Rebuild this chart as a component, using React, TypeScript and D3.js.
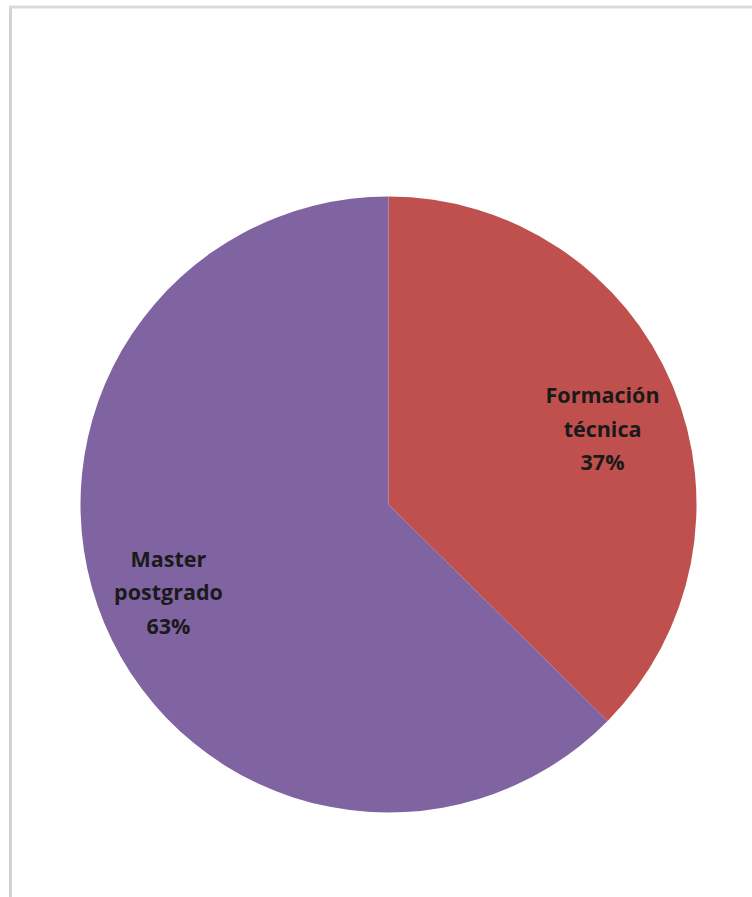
import React from "react";
import * as d3 from "d3";

const categories = ["Formación técnica", "Master postgrado"];
const labelLines = [["Formación", "técnica"], ["Master", "postgrado"]];
const values = [37.4, 62.6];
const colors = ["#C0504D", "#8064A2"];

const W = 752;
const H = 897;
const cx = 388.5;
const cy = 504.5;
const R = 308;
// layout nudges for label placement (Excel best-fit)
const labelNudge: [number, number][] = [[0, 14], [-6, -1]];

export default function App() {
  const pie = d3.pie<number>().sort(null).value((d) => d)(values);
  const arc = d3.arc<d3.PieArcDatum<number>>().innerRadius(0).outerRadius(R);
  const labelArc = d3.arc<d3.PieArcDatum<number>>().innerRadius(232).outerRadius(232);
  const total = d3.sum(values);
  return (
    <svg
      width={W}
      height={H}
      style={{ position: "absolute", left: 0, top: 0, display: "block" }}
      fontFamily="'Open Sans', 'Liberation Sans', sans-serif"
    >
      <rect x={0} y={0} width={W} height={H} fill="#ffffff" />
      <line x1={10.5} y1={7} x2={10.5} y2={H} stroke="#d2d2d2" strokeWidth={3} />
      <line x1={9} y1={7} x2={W} y2={7} stroke="#d9d9d9" strokeWidth={3} />
      <g transform={`translate(${cx},${cy})`}>
        {pie.map((p, i) => (
          <path key={categories[i]} d={arc(p) || ""} fill={colors[i]} />
        ))}
        {pie.map((p, i) => {
          const [ax, ay] = labelArc.centroid(p);
          const lx = ax + labelNudge[i][0];
          const ly = ay + labelNudge[i][1];
          const pct = d3.format(".0%")(values[i] / total);
          const lines = [...labelLines[i], pct];
          return (
            <text
              key={"l" + i}
              x={lx}
              y={ly}
              textAnchor="middle"
              fontWeight="bold"
              fontSize={21.5}
              fill="#1a1a1a"
            >
              {lines.map((t, j) => (
                <tspan key={j} x={lx} y={ly + (j - 1) * 33.5 + 7.5}>
                  {t}
                </tspan>
              ))}
            </text>
          );
        })}
      </g>
    </svg>
  );
}
